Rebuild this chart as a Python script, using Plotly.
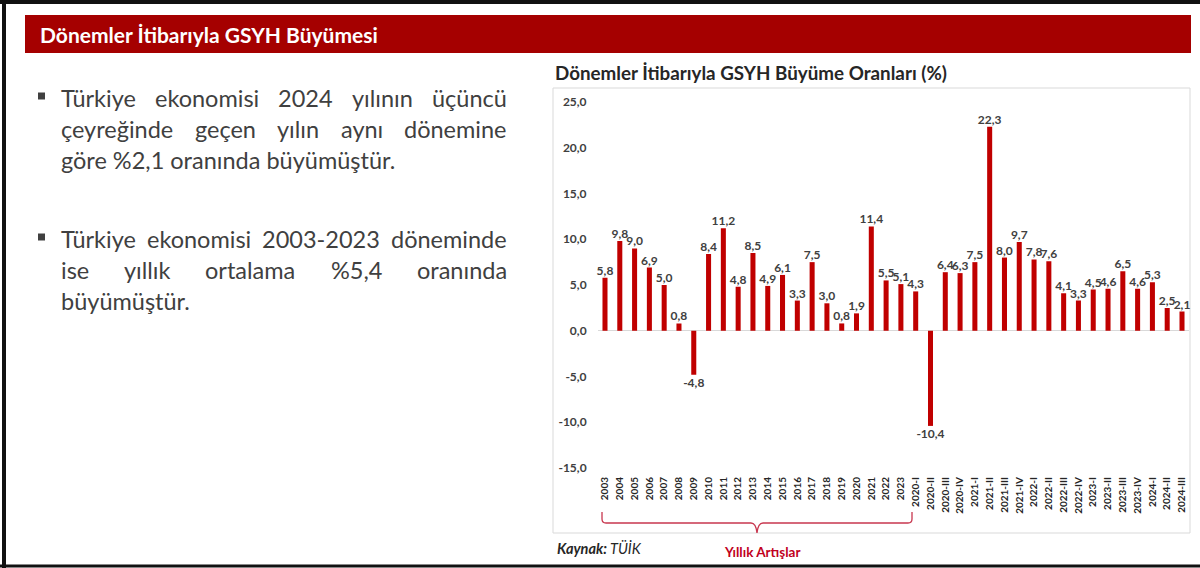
import json
import plotly.graph_objects as go

# ---------------- data ----------------
years = [str(y) for y in range(2003, 2024)]
quarters = ["2020-I", "2020-II", "2020-III", "2020-IV",
            "2021-I", "2021-II", "2021-III", "2021-IV",
            "2022-I", "2022-II", "2022-III", "2022-IV",
            "2023-I", "2023-II", "2023-III", "2023-IV",
            "2024-I", "2024-II", "2024-III"]
categories = years + quarters

annual_growth = [5.8, 9.8, 9.0, 6.9, 5.0, 0.8, -4.8, 8.4, 11.2, 4.8, 8.5,
                 4.9, 6.1, 3.3, 7.5, 3.0, 0.8, 1.9, 11.4, 5.5, 5.1]
quarterly_growth = [4.3, -10.4, 6.4, 6.3, 7.5, 22.3, 8.0, 9.7, 7.8, 7.6,
                    4.1, 3.3, 4.5, 4.6, 6.5, 4.6, 5.3, 2.5, 2.1]
values = annual_growth + quarterly_growth

y_tick_vals = [-15, -10, -5, 0, 5, 10, 15, 20, 25]
y_tick_text = ["-15,0", "-10,0", "-5,0", "0,0", "5,0", "10,0", "15,0", "20,0", "25,0"]

header_title = "Dönemler İtibarıyla GSYH Büyümesi"
chart_title = "Dönemler İtibarıyla GSYH Büyüme Oranları (%)"
source_text = "<b><i>Kaynak:</i></b><i> TÜİK</i>"
brace_label = "Yıllık Artışlar"

bullet_text_lines = [
    ("Türkiye ekonomisi 2024 yılının üçüncü", True),
    ("çeyreğinde geçen yılın aynı dönemine", True),
    ("göre %2,1 oranında büyümüştür.", False),
    ("Türkiye ekonomisi 2003-2023 döneminde", True),
    ("ise yıllık ortalama %5,4 oranında", True),
    ("büyümüştür.", False),
]

# ---------------- layout helpers ----------------
W, H = 1200, 568
FONT = "Lato"


def px(x):
    return x / W


def py(y):
    return 1 - y / H


labels = [f"{v:.1f}".replace(".", ",") for v in values]

fig = go.Figure()
fig.add_trace(go.Bar(
    x=categories, y=values,
    marker=dict(color="#C00000", line=dict(width=0)),
    text=labels, textposition="outside",
    textfont=dict(family=FONT, size=12, color="#404040", weight="bold"),
    constraintext="none", cliponaxis=False,
    hoverinfo="x+y",
))

shapes = []
annotations = []

# outer black frame (left, top, bottom)
shapes.append(dict(type="line", xref="paper", yref="paper",
                   x0=px(4), x1=px(4), y0=0, y1=1,
                   line=dict(color="#111111", width=4)))
shapes.append(dict(type="line", xref="paper", yref="paper",
                   x0=0, x1=1, y0=py(2), y1=py(2),
                   line=dict(color="#111111", width=4)))
shapes.append(dict(type="line", xref="paper", yref="paper",
                   x0=0, x1=1, y0=py(566), y1=py(566),
                   line=dict(color="#111111", width=3)))

# red header bar
shapes.append(dict(type="rect", xref="paper", yref="paper",
                   x0=px(25), x1=px(1191), y0=py(53), y1=py(15),
                   fillcolor="#A50000", line=dict(width=0), layer="below"))
annotations.append(dict(xref="paper", yref="paper", x=px(38), y=py(34),
                        xanchor="left", yanchor="middle", showarrow=False,
                        text=f"<b>{header_title}</b>",
                        font=dict(family=FONT, size=21, color="white")))

# chart frame
shapes.append(dict(type="rect", xref="paper", yref="paper",
                   x0=px(553), x1=px(1190), y0=py(533), y1=py(88),
                   line=dict(color="#D9D9D9", width=1), layer="below"))

# bullet text: one annotation per word, justified in the browser
text_color = "#404040"
BODY = 23.5
LEFT, RIGHT = 61, 507
line_ys = [98, 129, 160, 239, 270, 301]
justify_groups = []
for (line, justified), yline in zip(bullet_text_lines, line_ys):
    if justified:
        words = line.split(" ")
        idxs = []
        n = len(words)
        for k, w in enumerate(words):
            xw = LEFT + k * (RIGHT - LEFT) / n
            idxs.append(len(annotations))
            annotations.append(dict(xref="paper", yref="paper", x=px(xw), y=py(yline),
                                    xanchor="left", yanchor="middle", showarrow=False,
                                    text=w, font=dict(family=FONT, size=BODY, color=text_color)))
        justify_groups.append(idxs)
    else:
        annotations.append(dict(xref="paper", yref="paper", x=px(LEFT - 2), y=py(yline),
                                xanchor="left", yanchor="middle", showarrow=False,
                                text=line, font=dict(family=FONT, size=BODY, color=text_color)))

for yb in (96, 237):
    shapes.append(dict(type="rect", xref="paper", yref="paper",
                       x0=px(38), x1=px(45), y0=py(yb + 3.5), y1=py(yb - 3.5),
                       fillcolor=text_color, line=dict(width=0)))

# chart title
annotations.append(dict(xref="paper", yref="paper", x=px(553), y=py(72),
                        xanchor="left", yanchor="middle", showarrow=False,
                        text=f"<b>{chart_title}</b>",
                        font=dict(family=FONT, size=18.8, color="#262626")))

# brace under annual labels
pts = [(602, 512), (602, 519), (602, 523), (606, 523), (751, 523), (756, 523),
       (757, 533), (758, 523), (763, 523), (908, 523), (912, 523), (912, 519), (912, 512)]
P = [f"{px(x):.5f},{py(y):.5f}" for x, y in pts]
path = (f"M {P[0]} L {P[1]} Q {P[2]} {P[3]} L {P[4]} Q {P[5]} {P[6]} "
        f"Q {P[7]} {P[8]} L {P[9]} Q {P[10]} {P[11]} L {P[12]}")
shapes.append(dict(type="path", xref="paper", yref="paper", path=path,
                   line=dict(color="#C8374F", width=1.3)))
annotations.append(dict(xref="paper", yref="paper", x=px(762), y=py(552),
                        xanchor="center", yanchor="middle", showarrow=False,
                        text=f"<b>{brace_label}</b>",
                        font=dict(family=FONT, size=13.5, color="#C00020")))

# source
annotations.append(dict(xref="paper", yref="paper", x=px(555), y=py(548),
                        xanchor="left", yanchor="middle", showarrow=False,
                        text=source_text,
                        font=dict(family=FONT, size=14.5, color="#262626")))

fig.update_layout(
    width=W, height=H,
    margin=dict(l=0, r=0, t=0, b=0, pad=0, autoexpand=False),
    paper_bgcolor="white", plot_bgcolor="white",
    showlegend=False,
    bargap=0.66,
    shapes=shapes, annotations=annotations,
    xaxis=dict(domain=[px(597.6), px(1189.4)], type="category",
               range=[-0.5, len(categories) - 0.5], automargin=False,
               tickangle=-90, showgrid=False, showline=False, ticks="",
               ticklabelstandoff=6,
               tickfont=dict(family=FONT, size=10, color="#262626", weight="bold")),
    yaxis=dict(domain=[py(468), py(102)], range=[-15, 25], automargin=False,
               tickvals=y_tick_vals, ticktext=y_tick_text,
               showgrid=False, showline=False, ticks="",
               zeroline=True, zerolinecolor="#D9D9D9", zerolinewidth=1,
               ticklabelstandoff=10,
               tickfont=dict(family=FONT, size=12, color="#404040", weight="bold")),
)

js = """
document.body.style.margin='0px';
document.body.style.overflow='hidden';
var gd = document.getElementById('{plot_id}');
var groups = %s;
var L = %f, R = %f, W = %d;
function boxW(i) {
  var g = gd.querySelector('.annotation[data-index="' + i + '"]');
  if (!g) { g = gd.querySelectorAll('.annotation')[i]; }
  var t = g.querySelector('text');
  return t.getBBox().width;
}
try {
  var upd = {};
  groups.forEach(function(idx) {
    var ws = idx.map(boxW);
    var tot = ws.reduce(function(a, b) { return a + b; }, 0);
    var gap = (R - L - tot) / (idx.length - 1);
    var x = L;
    idx.forEach(function(i, k) {
      upd['annotations[' + i + '].x'] = (x - 2) / W;
      x += ws[k] + gap;
    });
  });
  Plotly.relayout(gd, upd);
} catch (e) {}
""" % (json.dumps(justify_groups), LEFT, RIGHT, W)

fig.write_html("out.html", config={"displayModeBar": False}, post_script=js)
